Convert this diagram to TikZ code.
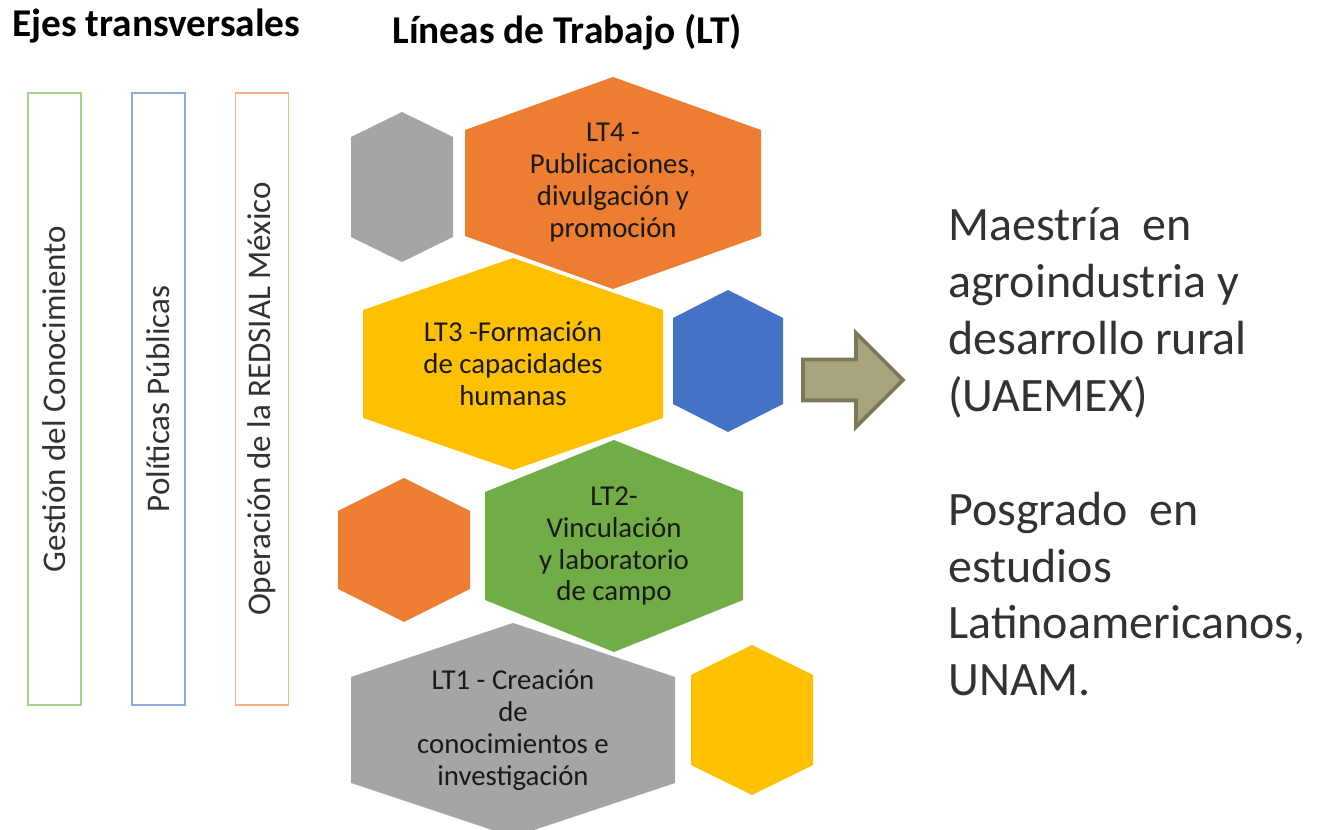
\documentclass[tikz,border=0pt]{standalone}
\usepackage{fontspec}
\setmainfont{Carlito}
\usepackage{tikz}
\usetikzlibrary{shapes.arrows}

\definecolor{HexOrange}{RGB}{237,125,49}
\definecolor{HexGray}{RGB}{165,165,165}
\definecolor{HexYellow}{RGB}{255,192,0}
\definecolor{HexBlue}{RGB}{68,114,196}
\definecolor{HexGreen}{RGB}{112,173,71}
\definecolor{EjeGreen}{RGB}{169,209,142}
\definecolor{EjeBlue}{RGB}{143,170,220}
\definecolor{EjeOrange}{RGB}{244,177,131}
\definecolor{ArrowFill}{RGB}{168,165,124}
\definecolor{ArrowLine}{RGB}{124,121,90}
\definecolor{TextGray}{RGB}{50,50,50}

\newcommand{\hexcell}[5]{%
  \fill[#2] ([shift={(0,-#4)}]#1) -- ([shift={(#3,-#5)}]#1) -- ([shift={(#3,#5)}]#1)
    -- ([shift={(0,#4)}]#1) -- ([shift={(-#3,#5)}]#1) -- ([shift={(-#3,-#5)}]#1) -- cycle;}

\begin{document}
\begin{tikzpicture}[x=0.02cm,y=-0.02cm,
                    eje/.style={draw,line width=1.1pt,rotate=90,minimum width=12.24cm,minimum height=1.06cm,
                                inner sep=0pt,font={\fontsize{18.8}{22}\selectfont},text=TextGray},
                    hextext/.style={align=center,inner sep=0pt,font={\fontsize{16.4}{18.2}\selectfont},text=black!90},
                    heading/.style={anchor=west,inner sep=0pt,font={\bfseries\fontsize{22.4}{26}\selectfont}},
                    bigarrow/.style={single arrow,draw=ArrowLine,fill=ArrowFill,line width=2.2pt,inner sep=.37cm,
                                     outer sep=0pt,single arrow head extend=.53cm,minimum height=2cm}]
  \useasboundingbox (0,0) rectangle (1319,830);
  \node[heading] (ejes) at (12,26) {Ejes transversales};
  \node[heading] (lineas) at (392,32) {Líneas de Trabajo (LT)};
  \node[eje,draw=EjeGreen] (gestion) at (54.5,399) {Gestión del Conocimiento};
  \node[eje,draw=EjeBlue] (politicas) at (158.5,399) {Políticas Públicas};
  \node[eje,draw=EjeOrange] (operacion) at (262,399) {Operación de la REDSIAL México};
  \coordinate (c-gray) at (402,187);
  \coordinate (c-lt4) at (613,183);
  \coordinate (c-lt3) at (513,364);
  \coordinate (c-blue) at (728,361);
  \coordinate (c-orange) at (404,550);
  \coordinate (c-lt2) at (614,546);
  \coordinate (c-lt1) at (513,730);
  \coordinate (c-yellow) at (752,720);
  \hexcell{c-gray}{HexGray}{51}{75}{50}
  \hexcell{c-lt4}{HexOrange}{148}{106}{53}
  \hexcell{c-lt3}{HexYellow}{150}{106}{54}
  \hexcell{c-blue}{HexBlue}{55}{71}{43}
  \hexcell{c-orange}{HexOrange}{66}{72}{39}
  \hexcell{c-lt2}{HexGreen}{129}{106}{54}
  \hexcell{c-lt1}{HexGray}{162}{107}{53}
  \hexcell{c-yellow}{HexYellow}{61}{75}{45}
  \node[hextext] (lt4) at (c-lt4) {LT4 -\\Publicaciones,\\divulgación y\\promoción};
  \node[hextext] (lt3) at (c-lt3) {LT3 -Formación\\de capacidades\\humanas};
  \node[hextext] (lt2) at (c-lt2) {LT2-\\Vinculación\\y laboratorio\\de campo};
  \node[hextext] (lt1) at (c-lt1) {LT1 - Creación\\de\\conocimientos e\\investigación};
  \node[bigarrow,anchor=tail] (flecha) at (803,380) {};
  \node[anchor=west,align=left,inner sep=0pt,text=TextGray,font={\fontsize{27.3}{32.4}\selectfont}] (posgrados) at (948,452)
    {Maestría~ en\\agroindustria y\\desarrollo rural\\(UAEMEX)\\[32.4pt]Posgrado~ en\\estudios\\Latinoamericanos,\\UNAM.};
\end{tikzpicture}
\end{document}
